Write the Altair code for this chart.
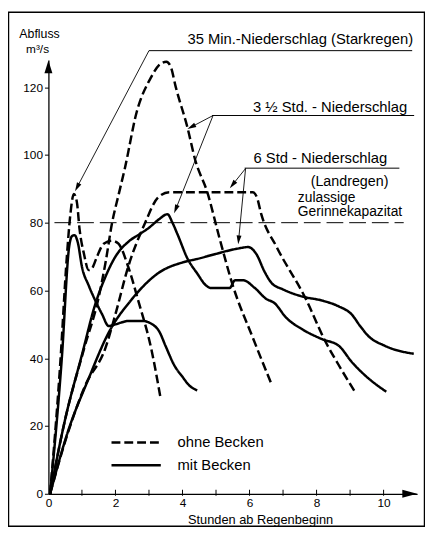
import math
import altair as alt
import pandas as pd

FONT = "Liberation Sans"

# ---------------- data ----------------
curve_ids = ["35 Min. ohne", "35 Min. mit", "3 ½ Std. ohne", "3 ½ Std. mit", "6 Std. ohne", "6 Std. mit"]
curve_kinds = ["ohne Becken", "mit Becken", "ohne Becken", "mit Becken", "ohne Becken", "mit Becken"]

min35_ohne_x = [0.05, 0.35, 0.55, 0.65, 0.76, 0.85, 0.93, 1.06, 1.2, 1.3, 1.45, 1.65, 1.9, 2.09, 2.38, 2.68, 3.07, 3.35]
min35_ohne_y = [0, 38, 70, 82, 88.5, 86, 78, 70.8, 66, 66.5, 70, 73.8, 74.7, 73.8, 67, 57, 42.7, 28]

min35_mit_x = [0.05, 0.4, 0.62, 0.7, 0.78, 0.88, 1.0, 1.2, 1.4, 1.6, 1.8, 2.0, 2.4, 2.8, 3.1, 3.3, 3.5, 3.75, 4.0, 4.2, 4.44]
min35_mit_y = [0, 40, 73, 76, 76.3, 74, 67, 61.5, 57, 53, 49.5, 50, 51, 51, 50, 48, 43.5, 38, 34.5, 32, 30.5]

std35_ohne_x = [0.05, 0.5, 1.06, 1.5, 1.7, 1.9, 2.1, 2.28, 2.63, 3.07, 3.3, 3.52, 3.65, 3.8, 4.15, 4.38, 4.74, 5.1, 5.5, 6.1, 6.65]
std35_ohne_y = [0, 22, 42.7, 58, 68, 80, 88.5, 96, 112.5, 123, 126.5, 127.5, 126, 120, 108, 98.5, 89, 75.6, 61.5, 46, 32.5]

std35_mit_x = [0.05, 0.5, 1.0, 1.4, 1.7, 2.0, 2.4, 2.7, 3.0, 3.3, 3.55, 3.7, 3.85, 4.15, 4.44, 4.7, 4.85, 5.4,
               5.57, 5.81, 6.16, 6.5, 6.74, 7.09, 7.58, 8.17, 8.66, 9.05, 9.44, 10.08]
std35_mit_y = [0, 22, 41, 56, 64, 70, 74.5, 76.5, 78.5, 81, 82.5, 80, 76.6, 69.4, 65, 61.5, 60.7, 60.7,
               63, 63, 60.7, 57.5, 56.3, 52, 48.5, 45.6, 43.7, 38.9, 35, 30.1]

std6_ohne_x = [0.05, 0.55, 1.1, 1.7, 2.0, 2.38, 2.87, 3.26, 3.6, 4.5, 5.5, 6.1, 6.22, 6.35, 6.8, 7.68, 8.26, 8.66, 9.15]
std6_ohne_y = [0, 17, 32, 43, 53, 67, 79.6, 87.3, 89, 89, 89, 89, 87.5, 82.5, 73, 57.5, 45, 38, 30]

std6_mit_x = [0.05, 0.57, 1.2, 1.8, 2.48, 3.26, 4.05, 4.44, 5.0, 5.62, 5.96, 6.2, 6.45, 6.65, 7.0, 7.58,
              8.17, 8.66, 9.05, 9.3, 9.54, 10.03, 10.9]
std6_mit_y = [0, 18, 34, 47.6, 57.3, 65, 68.4, 69.3, 70.8, 72.3, 72.8, 70.8, 65.5, 62.3, 60.3, 58.2,
              57.0, 55.3, 52.9, 49.5, 46.6, 43.7, 41.3]

curve_xs = [min35_ohne_x, min35_mit_x, std35_ohne_x, std35_mit_x, std6_ohne_x, std6_mit_x]
curve_ys = [min35_ohne_y, min35_mit_y, std35_ohne_y, std35_mit_y, std6_ohne_y, std6_mit_y]

capacity_value = 80
capacity_span = [0.18, 10.6]

x_label_values = [0, 2, 4, 6, 8, 10]
x_tick_values = [1, 2, 3, 4, 5, 6, 7, 8, 9, 10]
y_tick_values = [0, 10, 20, 30, 40, 50, 60, 70, 80, 90, 100, 110, 120]

legend_labels = ["ohne Becken", "mit Becken"]

title_y = ["Abfluss", "m³/s"]
title_x = "Stunden ab Regenbeginn"
label_35min = "35 Min.-Niederschlag (Starkregen)"
label_35std = "3 ½ Std. - Niederschlag"
label_6std = "6 Std - Niederschlag"
label_land = "(Landregen)"
label_cap = ["zulassige", "Gerinnekapazitat"]

# ---------------- table for the library ----------------
rows = []
for cid, kind, xs, ys in zip(curve_ids, curve_kinds, curve_xs, curve_ys):
    for i, (xv, yv) in enumerate(zip(xs, ys)):
        rows.append({"curve": cid, "kind": kind, "x": xv, "y": yv, "i": i})
df = pd.DataFrame(rows)
one = pd.DataFrame({"k": [0]})

# ---------------- layout ----------------
X0, Y0 = 49, 57          # plot origin on the page
W, H = 374, 440
xscale = alt.Scale(domain=[0, 11], nice=False, zero=False)
yscale = alt.Scale(domain=[0, 128], nice=False, zero=False)


def label(text, px, py, size, align="left", baseline="alphabetic"):
    return alt.Chart(one).mark_text(
        text=text, font=FONT, fontSize=size, align=align, baseline=baseline, color="black"
    ).encode(x=alt.value(px - X0), y=alt.value(py - Y0))


def segment(p0, p1, width=1.0, dash=None):
    kw = dict(color="black", strokeWidth=width)
    if dash:
        kw["strokeDash"] = dash
    return alt.Chart(one).mark_rule(**kw).encode(
        x=alt.value(p0[0] - X0), y=alt.value(p0[1] - Y0),
        x2=alt.value(p1[0] - X0), y2=alt.value(p1[1] - Y0))


ARROW = "M1,0L-1,-0.55L-1,0.55Z"


def leader(start, tip, length=9):
    dx, dy = tip[0] - start[0], tip[1] - start[1]
    d = math.hypot(dx, dy)
    ux, uy = dx / d, dy / d
    cx, cy = tip[0] - ux * length / 2, tip[1] - uy * length / 2
    ang = math.degrees(math.atan2(dy, dx)) % 360
    head = alt.Chart(one).mark_point(
        shape=ARROW, size=length ** 2, angle=ang, filled=True, fill="black",
        strokeWidth=0, opacity=1
    ).encode(x=alt.value(cx - X0), y=alt.value(cy - Y0))
    return [segment(start, (cx, cy), 0.9), head]


frame = alt.Chart(one).mark_rect(fillOpacity=0, stroke="black", strokeWidth=1.5).encode(
    x=alt.value(8.5 - X0), x2=alt.value(430.5 - X0),
    y=alt.value(8.5 - Y0), y2=alt.value(530 - Y0))

capacity = alt.Chart(one).mark_rule(color="black", strokeWidth=1, strokeDash=[17, 6]).encode(
    x=alt.datum(capacity_span[0]), x2=alt.datum(capacity_span[1]), y=alt.datum(capacity_value))

lines = alt.Chart(df).mark_line(
    color="black", strokeWidth=2.5, interpolate="monotone", strokeCap="butt", strokeJoin="round"
).encode(
    x=alt.X("x:Q", scale=xscale, axis=alt.Axis(
        values=x_label_values, ticks=False, labelPadding=4, labelFontSize=12,
        labelFlush=False, labelOverlap=False, grid=False, domainWidth=1.3,
        title=title_x, titleFontSize=13, titleFontWeight="normal",
        titleX=214.7, titleY=26, titleAlign="center", titleBaseline="middle")),
    y=alt.Y("y:Q", scale=yscale, axis=alt.Axis(
        values=y_tick_values, labelExpr="datum.value % 20 === 0 ? datum.label : ''",
        tickSize=4, labelPadding=2, labelFontSize=12, labelFlush=False,
        labelOverlap=False, grid=False, domainWidth=1.3, title=None)),
    detail="curve:N",
    order="i:Q",
    strokeDash=alt.StrokeDash("kind:N", scale=alt.Scale(domain=legend_labels, range=[[9, 4], [1, 0]]),
                              legend=None),
)

xticks = alt.Chart(pd.DataFrame({"t": x_tick_values})).mark_tick(
    orient="vertical", size=6, thickness=1, color="black", opacity=1, yOffset=-1
).encode(x=alt.X("t:Q", scale=xscale), y=alt.datum(0))

x_arrow = alt.Chart(one).mark_point(
    shape=ARROW, size=225, angle=0, filled=True, fill="black", strokeWidth=0, opacity=1
).encode(x=alt.value(423 - X0 - 7.5), y=alt.datum(0))

y_arrow = alt.Chart(one).mark_point(
    shape="M1,0L-1,-0.62L-1,0.62Z", size=169, angle=270, filled=True, fill="black", strokeWidth=0, opacity=1
).encode(x=alt.datum(0), y=alt.value(57.5 - Y0 + 6.5))

layers = [frame, capacity, lines, xticks, x_arrow, y_arrow]

# underlines and leader lines
layers += [segment((151, 47.5), (418, 47.5)), segment((215, 113.3), (420, 113.3)),
           segment((248, 166.7), (405, 166.7))]
layers += leader((151, 47.5), (76, 190))
layers += leader((216, 113.3), (190, 127))
layers += leader((216, 113.3), (176.5, 212.5))
layers += leader((249, 167), (233, 187))
layers += leader((249, 167), (241.5, 244))

# legend drawn inside the plot
layers += [segment((113, 445), (163, 445), 2.5, [9, 4]), segment((113, 468), (163, 468), 2.5)]
layers += [label(legend_labels[0], 180, 445, 15, baseline="middle"),
           label(legend_labels[1], 180, 468, 15, baseline="middle")]

# texts
layers += [
    label(title_y[0], 40, 30.5, 12.5, align="center", baseline="middle"),
    label(title_y[1], 38, 45.5, 12, align="center", baseline="middle"),
    label(label_35min, 190, 40.5, 15),
    label(label_35std, 256.5, 110, 15),
    label(label_6std, 257, 161.5, 15),
    label(label_land, 315, 184.5, 14.5),
    label(label_cap[0], 302, 201, 14),
    label(label_cap[1], 302, 215.5, 14),
]

chart = alt.layer(*layers).properties(
    width=W, height=H,
    autosize=alt.AutoSizeParams(type="none"),
    padding={"left": X0 - 8, "top": Y0 - 8, "right": 8, "bottom": 34},
).configure_view(strokeWidth=0).configure_axis(
    labelFont=FONT, titleFont=FONT, labelColor="black", titleColor="black",
    domainColor="black", tickColor="black"
)

chart.save("out.html", embed_options={"renderer": "svg", "actions": False})
